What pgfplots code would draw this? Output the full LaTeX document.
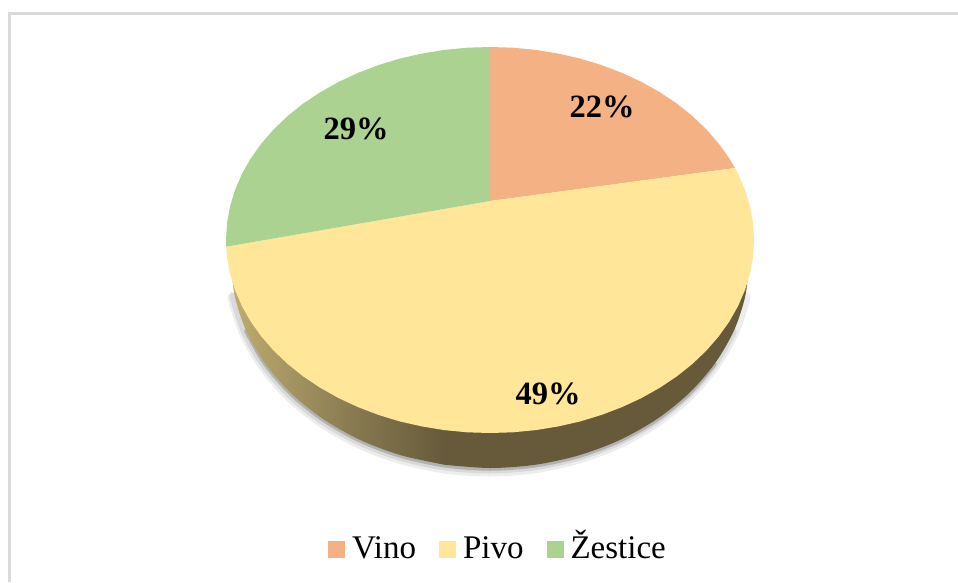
\documentclass[border=0pt]{standalone}
\usepackage{fontspec}
\setmainfont{Liberation Serif}
\usepackage{pgfplots}
\pgfplotsset{compat=1.18}
\definecolor{cVino}{HTML}{F4B183}
\definecolor{cPivo}{HTML}{FFE699}
\definecolor{cZest}{HTML}{ABD291}
\definecolor{cFrame}{HTML}{D9D9D9}
\definecolor{sideL}{HTML}{BFAC70}
\definecolor{sideM}{HTML}{857850}
\definecolor{sideD}{HTML}{665A3A}
\pgfdeclarehorizontalshading{sidegrad}{100bp}{color(0bp)=(sideL);color(25bp)=(sideL);color(55bp)=(sideM);color(75bp)=(sideD);color(100bp)=(sideD)}
\begin{document}
\begin{tikzpicture}
\begin{axis}[
  width=958pt,height=582pt,scale only axis,
  xmin=0,xmax=958,ymin=0,ymax=582,y dir=reverse,
  hide axis,clip=true,
  legend style={
    at={(axis cs:328,545.5)},anchor=west,draw=none,fill=none,
    legend columns=3,inner sep=0pt,outer sep=0pt,
    font=\fontsize{33}{33}\selectfont,
    nodes={inner xsep=7pt,inner ysep=0pt,anchor=base west},
    column sep=0pt,
    /tikz/column 2/.style={column sep=16pt},
    /tikz/column 4/.style={column sep=16pt}
  },
  legend cell align=left,
  legend image code/.code={\fill[#1,draw=none] (0pt,1pt) rectangle (17pt,18pt);},
]
% page background and frame
\addplot[forget plot,draw=none,fill=white] coordinates {(0,0)(958,0)(958,582)(0,582)} -- cycle;
\addplot[forget plot,draw=cFrame,line width=2.5pt,line join=miter] coordinates {(958,13.3)(9.3,13.3)(9.3,582)};
% shadow
\addplot[forget plot,smooth,draw=black!7,line width=11pt,line join=round,line cap=round,yshift=-3pt,xshift=-1pt] coordinates {(746.1,294.5)(734.3,329.8)(715.2,363)(689.2,393)(657.1,418.9)(620,439.9)(578.9,455.3)(535.1,464.8)(490,468)(444.9,464.8)(401.1,455.3)(360,439.9)(322.9,418.9)(290.8,393)(264.8,363)(245.7,329.8)(233.9,294.5)};
\addplot[forget plot,smooth,draw=black!15,line width=7pt,line join=round,line cap=round,yshift=-2pt,xshift=-1pt] coordinates {(734.3,329.8)(715.2,363)(689.2,393)(657.1,418.9)(620,439.9)(578.9,455.3)(535.1,464.8)(490,468)(444.9,464.8)(401.1,455.3)(360,439.9)(322.9,418.9)(290.8,393)(264.8,363)(245.7,329.8)(233.9,294.5)};
\addplot[forget plot,smooth,draw=black!30,line width=3.5pt,line join=round,line cap=round,yshift=-1pt] coordinates {(715.2,363)(689.2,393)(657.1,418.9)(620,439.9)(578.9,455.3)(535.1,464.8)(490,468)(444.9,464.8)(401.1,455.3)(360,439.9)(322.9,418.9)(290.8,393)(264.8,363)(245.7,329.8)};
% side wall: right solid part, left graded part
\addplot[forget plot,smooth,draw=none,fill=sideD] coordinates {(749,258)(745.6,294.5)(734.3,329.8)(715.2,363)(689.2,393)(657.1,418.9)(620,439.9)(578.9,455.3)(535.1,464.8)(490,468)(444.9,464.8)} |- (axis cs:749,258) -- cycle;
\addplot[forget plot,smooth,draw=none,shading=sidegrad] coordinates {(444.9,464.8)(401.1,455.3)(360,439.9)(322.9,418.9)(290.8,393)(264.8,363)(245.7,329.8)(234.4,294.5)(231,258)} -- (axis cs:444.9,258) -- cycle;
% Vino
\addplot[draw=none,fill=cVino] coordinates {(490,201)(490,47)(513,47.7)(535.8,49.9)(558.3,53.6)(580.3,58.6)(601.6,65.1)(622,72.9)(641.4,81.9)(659.7,92.2)(676.7,103.5)(692.2,115.9)(706.3,129.3)(718.6,143.5)(729.3,158.4)(735,168)} -- cycle;
\addlegendentry{Vino}
% Pivo
\addplot[draw=none,fill=cPivo] coordinates {(490,201)(735,168)(738.1,174)(745,190)(750,206.5)(753,223.2)(754,240)(753,256.8)(750,273.5)(745,290)(738.1,306)(729.3,321.6)(718.6,336.5)(706.3,350.7)(692.2,364.1)(676.7,376.5)(659.7,387.8)(641.4,398.1)(622,407.1)(601.6,414.9)(580.3,421.4)(558.3,426.4)(535.8,430.1)(513,432.3)(490,433)(467,432.3)(444.2,430.1)(421.7,426.4)(399.7,421.4)(378.4,414.9)(358,407.1)(338.6,398.1)(320.3,387.8)(303.3,376.5)(287.8,364.1)(273.7,350.7)(261.4,336.5)(250.7,321.6)(241.9,306)(235,290)(230,273.5)(227,256.8)(226.2,246.7)} -- cycle;
\addlegendentry{Pivo}
% Zestice
\addplot[draw=none,fill=cZest] coordinates {(490,201)(226.2,246.7)(226,240)(227,223.2)(230,206.5)(235,190)(241.9,174)(250.7,158.4)(261.4,143.5)(273.7,129.3)(287.8,115.9)(303.3,103.5)(320.3,92.2)(338.6,81.9)(358,72.9)(378.4,65.1)(399.7,58.6)(421.7,53.6)(444.2,49.9)(467,47.7)(490,47)} -- cycle;
\addlegendentry{Žestice}
\node[anchor=base,font=\fontsize{32.5}{33}\selectfont\bfseries,inner sep=0pt] at (axis cs:602,117) {22\%};
\node[anchor=base,font=\fontsize{32.5}{33}\selectfont\bfseries,inner sep=0pt] at (axis cs:356,139) {29\%};
\node[anchor=base,font=\fontsize{32.5}{33}\selectfont\bfseries,inner sep=0pt] at (axis cs:548,404) {49\%};
\end{axis}
\end{tikzpicture}
\end{document}
